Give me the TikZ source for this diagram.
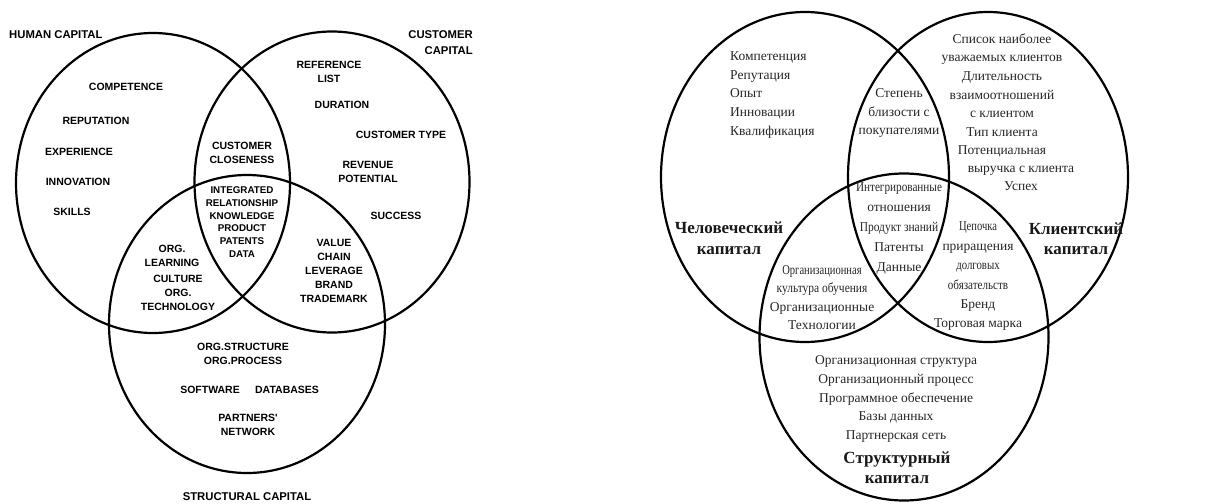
\documentclass[tikz,border=0pt]{standalone}
\usepackage{fontspec}
\usepackage{graphicx}
\setmainfont{Liberation Serif}
\newfontfamily\ensans{Liberation Sans}
\usetikzlibrary{shapes,positioning,calc}

% squeezed words of the Russian diagram
\newcommand{\narrowtext}[2][0.8]{\scalebox{#1}[1]{#2}}

\begin{document}
\begin{tikzpicture}[
    x=1pt, y=-1pt,
    ring/.style={draw, ellipse, line width=2.2pt, inner sep=0pt},
    entitle/.style={font=\ensans\bfseries\fontsize{11.3}{16}\selectfont, inner sep=0pt},
    enitem/.style={font=\ensans\bfseries\fontsize{10.5}{14}\selectfont, align=center, inner sep=0pt},
    encore/.style={font=\ensans\bfseries\fontsize{9.8}{12.8}\selectfont, align=center, inner sep=0pt},
    ruitem/.style={font=\fontsize{13.5}{18.6}\selectfont, text=black!85, align=center, inner sep=0pt},
    rutitle/.style={font=\bfseries\fontsize{17}{20.5}\selectfont, text=black!90, align=center, inner sep=0pt}
]
\useasboundingbox (0,0) rectangle (1212,503);

% Left diagram: circles
\node[ring, minimum width=274pt, minimum height=300pt] (human) at (153,183) {};
\node[ring, minimum width=275pt, minimum height=301pt] (customer) at (332,182) {};
\node[ring, minimum width=276pt, minimum height=298pt] (structural) at (247,324) {};

% Left diagram: titles
\node[entitle, anchor=west] (humantitle) at (9,35) {HUMAN CAPITAL};
\node[entitle, anchor=east, align=right] (customertitle) at (473,43) {CUSTOMER\\CAPITAL};
\node[entitle] (structuraltitle) at (247,497) {STRUCTURAL CAPITAL};

% Human capital
\node[enitem] (competence) at (126,87) {COMPETENCE};
\node[enitem] (reputation) at (96,121) {REPUTATION};
\node[enitem] (experience) at (79,152) {EXPERIENCE};
\node[enitem] (innovation) at (78,182) {INNOVATION};
\node[enitem] (skills) at (72,212) {SKILLS};

% Customer capital
\node[enitem] (reference) at (329,71.5) {REFERENCE\\LIST};
\node[enitem] (duration) at (342,105) {DURATION};
\node[enitem] (custtype) at (401,135) {CUSTOMER TYPE};
\node[enitem] (revenue) at (368,172) {REVENUE\\POTENTIAL};
\node[enitem] (success) at (396,216) {SUCCESS};

% Overlaps
\node[enitem] (closeness) at (242,152.5) {CUSTOMER\\CLOSENESS};
\node[encore] (integrated) at (242,222) {INTEGRATED\\RELATIONSHIP\\KNOWLEDGE\\PRODUCT\\PATENTS\\DATA};
\node[enitem] (orglearning) at (172,256) {ORG.\\LEARNING};
\node[enitem] (culture) at (178,293) {CULTURE\\ORG.\\TECHNOLOGY};
\node[enitem] (valuechain) at (334,271) {VALUE\\CHAIN\\LEVERAGE\\BRAND\\TRADEMARK};

% Structural capital
\node[enitem] (orgstructure) at (243,354) {ORG.STRUCTURE\\ORG.PROCESS};
\node[enitem] (software) at (210,390) {SOFTWARE};
\node[enitem, right=15pt of software] (databases) {DATABASES};
\node[enitem] (partners) at (248,425) {PARTNERS'\\NETWORK};

% Right diagram: circles
\node[ring, minimum width=288pt, minimum height=330pt] (ruhuman) at (805,177) {};
\node[ring, minimum width=280pt, minimum height=330pt] (rucustomer) at (988,177) {};
\node[ring, minimum width=289pt, minimum height=327pt] (rustructural) at (904,337) {};

% Right diagram: titles
\node[rutitle] (ruhumantitle) at (729,238) {Человеческий\\капитал};
\node[rutitle] (rucustomertitle) at (1076,238.5) {Клиентский\\капитал};
\node[rutitle] (rustructuraltitle) at (897,467.5) {Структурный\\капитал};

% Human capital
\node[ruitem, anchor=west, align=left] (rucompetence) at (730,95) {Компетенция\\Репутация\\Опыт\\Инновации\\Квалификация};

% Customer capital
\node[ruitem] (rureference) at (1002,95.5) {Список наиболее\\уважаемых клиентов\\Длительность\\взаимоотношений\\с клиентом\\Тип клиента\\Потенциальная};
\node[ruitem] (rurevenue) at (1021,178.5) {выручка с клиента\\Успех};

% Overlaps
\node[ruitem] (rucloseness) at (899,113) {Степень\\близости с\\покупателями};
\node[ruitem, font=\fontsize{13.5}{20.2}\selectfont] (ruintegrated) at (899,228.5) {\narrowtext[0.83]{Интегрированные}\\отношения\\\narrowtext[0.85]{Продукт знаний}\\Патенты\\Данные};
\node[ruitem] (ruorglearning) at (822,297.5) {\narrowtext[0.78]{Организационная}\\\narrowtext[0.85]{культура обучения}\\Организационные\\Технологии};
\node[ruitem, font=\fontsize{13.5}{19.4}\selectfont] (ruvaluechain) at (978,276.5) {\narrowtext[0.78]{Цепочка}\\приращения\\\narrowtext[0.8]{долговых}\\\narrowtext[0.82]{обязательств}\\Бренд\\Торговая марка};

% Structural capital
\node[ruitem] (ruorgstructure) at (896,399) {Организационная структура\\Организационный процесс\\Программное обеспечение\\Базы данных\\Партнерская сеть};

\end{tikzpicture}
\end{document}
